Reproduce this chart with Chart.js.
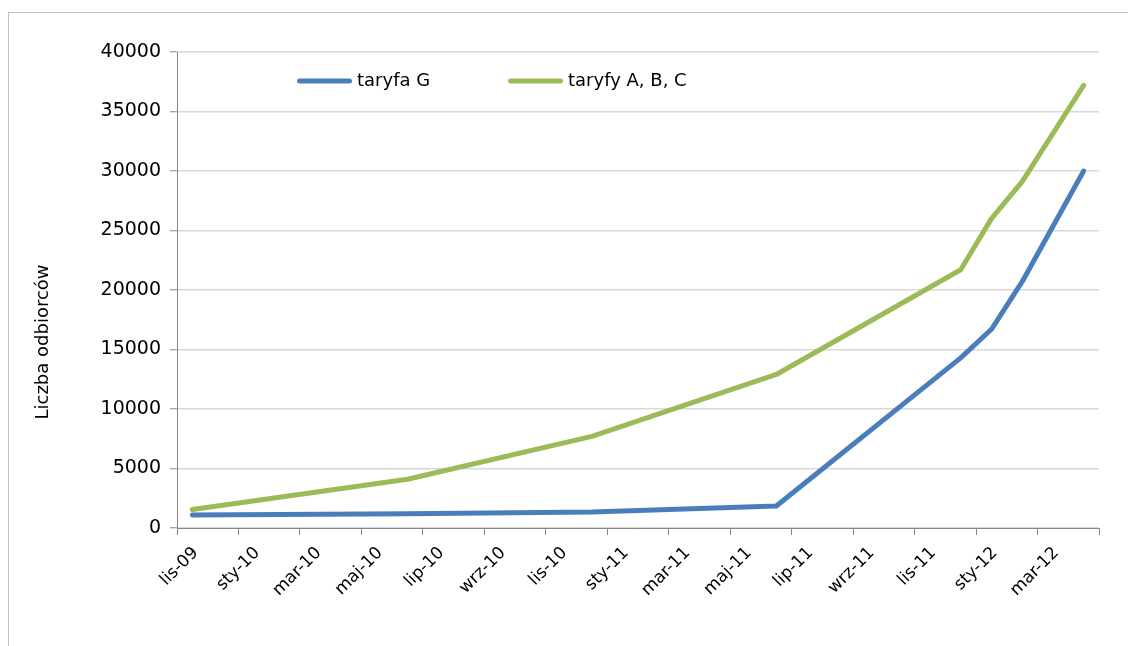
<!DOCTYPE html>
<html>
<head>
<meta charset="utf-8">
<script src="https://cdn.jsdelivr.net/npm/chart.js@4.4.1/dist/chart.umd.min.js"></script>
<style>
  html, body { margin: 0; padding: 0; background: #fff; }
  #wrap { position: relative; width: 1128px; height: 646px; overflow: hidden; }
  #frame { position: absolute; left: 8px; top: 12px; width: 2000px; height: 2000px; border: 1px solid #bfbfbf; }
  #chart { position: absolute; left: 0; top: 0; }
</style>
</head>
<body>
<div id="wrap">
  <div id="frame"></div>
  <canvas id="chart" width="1128" height="646"></canvas>
</div>
<script>
// x positions are months counted from lis-09 (0 = listopad 2009)
const pointMonths = [0, 7, 13, 19, 25, 26, 27, 29];
const taryfaG = [1100, 1200, 1350, 1850, 14300, 16700, 20700, 30000];
const taryfyABC = [1550, 4100, 7700, 12900, 21700, 26000, 29100, 37200];

// one label per two-month span
const monthLabels = ['lis-09', 'sty-10', 'mar-10', 'maj-10', 'lip-10', 'wrz-10', 'lis-10',
    'sty-11', 'mar-11', 'maj-11', 'lip-11', 'wrz-11', 'lis-11', 'sty-12', 'mar-12'];
const yMin = 0;
const yMax = 40000;
const yStep = 5000;
const yTitle = 'Liczba odbiorców';

const seriesNames = ['taryfa G', 'taryfy A, B, C'];
const seriesColors = ['#4a7ebb', '#9bbb59'];

const toPoints = (values) => values.map((v, i) => ({ x: pointMonths[i], y: v }));

// legend drawn inside the plot area, like the Excel original
const inlineLegend = {
    id: 'inlineLegend',
    afterDraw(chart, args, opts) {
        const ctx = chart.ctx;
        const area = chart.chartArea;
        const y = area.top + opts.offsetY;
        let x = area.left + opts.offsetX;
        ctx.save();
        ctx.font = opts.font;
        ctx.textBaseline = 'middle';
        ctx.textAlign = 'left';
        chart.data.datasets.forEach(ds => {
            ctx.strokeStyle = ds.borderColor;
            ctx.lineWidth = ds.borderWidth;
            ctx.lineCap = 'round';
            ctx.beginPath();
            ctx.moveTo(x + 2.5, y);
            ctx.lineTo(x + opts.lineLength - 2.5, y);
            ctx.stroke();
            ctx.fillStyle = '#000';
            ctx.fillText(ds.label, x + opts.lineLength + opts.gap, y);
            x += opts.itemSpacing;
        });
        ctx.restore();
    }
};

// vertical axis title (sits lower than the plot centre in the original)
const axisTitle = {
    id: 'axisTitle',
    afterDraw(chart, args, opts) {
        const ctx = chart.ctx;
        ctx.save();
        ctx.translate(opts.x, opts.y);
        ctx.rotate(-Math.PI / 2);
        ctx.font = opts.font;
        ctx.fillStyle = '#000';
        ctx.textAlign = 'center';
        ctx.textBaseline = 'middle';
        ctx.fillText(opts.text, 0, 0);
        ctx.restore();
    }
};

Chart.defaults.font.family = '"DejaVu Sans", Verdana, sans-serif';
Chart.defaults.font.size = 18;
Chart.defaults.color = '#000';

const ctx = document.getElementById('chart').getContext('2d');
new Chart(ctx, {
    type: 'line',
    data: {
        datasets: [
            {
                label: seriesNames[0],
                data: toPoints(taryfaG),
                borderColor: seriesColors[0],
                backgroundColor: seriesColors[0],
                borderWidth: 5,
                borderCapStyle: 'round',
                borderJoinStyle: 'round',
                pointRadius: 0,
                tension: 0
            },
            {
                label: seriesNames[1],
                data: toPoints(taryfyABC),
                borderColor: seriesColors[1],
                backgroundColor: seriesColors[1],
                borderWidth: 5,
                borderCapStyle: 'round',
                borderJoinStyle: 'round',
                pointRadius: 0,
                tension: 0
            }
        ]
    },
    options: {
        responsive: false,
        animation: false,
        devicePixelRatio: 1,
        layout: { padding: { left: 0, top: 52, right: 29, bottom: 0 } },
        plugins: {
            legend: { display: false },
            tooltip: { enabled: false },
            inlineLegend: {
                offsetX: 120, offsetY: 29, lineLength: 55, gap: 5, itemSpacing: 211,
                font: '18px "DejaVu Sans", Verdana, sans-serif'
            },
            axisTitle: {
                text: yTitle, x: 43, y: 342,
                font: '18px "DejaVu Sans", Verdana, sans-serif'
            }
        },
        scales: {
            x: {
                type: 'linear',
                min: -0.5,
                max: pointMonths[pointMonths.length - 1] + 0.5,
                afterBuildTicks: (scale) => {
                    scale.ticks = monthLabels.map((_, i) => ({ value: i * 2 + 0.5 }));
                },
                afterFit: (scale) => { scale.height = 118; },
                grid: {
                    offset: true,
                    drawOnChartArea: false,
                    drawTicks: true,
                    tickLength: 7,
                    tickColor: '#868686',
                    tickWidth: 1
                },
                border: { display: true, color: '#868686', width: 1 },
                ticks: {
                    autoSkip: false,
                    minRotation: 45,
                    maxRotation: 45,
                    padding: 8,
                    labelOffset: -12,
                    font: { size: 17 },
                    callback: (value, index) => monthLabels[index]
                }
            },
            y: {
                min: yMin,
                max: yMax,
                afterFit: (scale) => { scale.width = 177; },
                grid: {
                    color: '#d9d9d9',
                    lineWidth: 1.5,
                    drawTicks: true,
                    tickLength: 7,
                    tickColor: '#868686',
                    tickWidth: 1
                },
                border: { display: true, color: '#868686', width: 1 },
                ticks: {
                    stepSize: yStep,
                    padding: 9,
                    font: { size: 19 },
                    callback: (value) => String(value)
                }
            }
        }
    },
    plugins: [inlineLegend, axisTitle]
});
</script>
</body>
</html>
